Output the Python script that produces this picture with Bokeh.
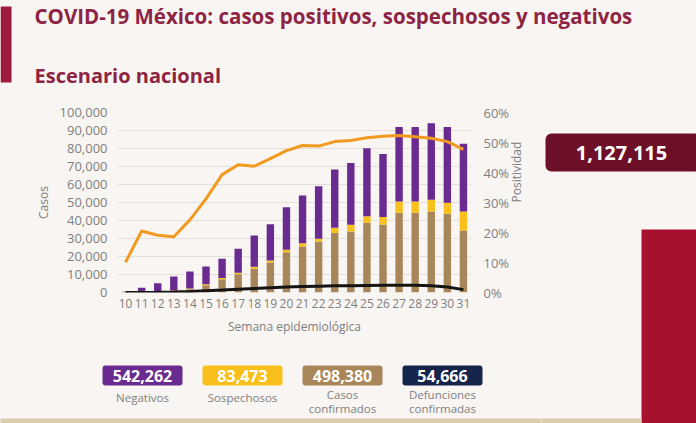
import math
from bokeh.plotting import figure
from bokeh.models import (FactorRange, Range1d, LinearAxis, FixedTicker, NumeralTickFormatter,
                          PrintfTickFormatter, ColumnDataSource)
from bokeh.layouts import column, row
from bokeh.core.properties import value
from bokeh.embed import file_html
from bokeh.resources import INLINE

# ---------------- data ----------------
weeks = [str(w) for w in range(10, 32)]
confirmados = [100, 200, 400, 800, 1800, 4000, 7300, 10200, 13400, 16700, 22400, 25500,
               28300, 33000, 33900, 38700, 37800, 44300, 44300, 45000, 43700, 34400]
sospechosos = [50, 100, 200, 300, 400, 600, 800, 800, 900, 1100, 1400, 1800,
               1500, 3000, 3700, 3700, 4100, 6300, 6300, 6500, 6100, 10600]
negativos = [250, 2300, 4600, 7800, 9500, 9900, 10600, 13300, 17300, 20100, 23500, 26600,
             29200, 32300, 34400, 37800, 35100, 41300, 41300, 42500, 42100, 37600]
defunciones = [0, 30, 80, 250, 550, 950, 1350, 1800, 2250, 2650, 3000, 3300,
               3500, 3700, 3800, 3900, 4000, 4050, 4000, 3800, 3100, 1600]
positividad = [10.1, 20.5, 19.1, 18.6, 24.2, 31.2, 39.3, 42.6, 42.1, 44.6, 47.3, 49.0,
               48.8, 50.3, 50.7, 51.6, 52.1, 52.3, 51.9, 51.4, 50.3, 47.7]
left_ticks = list(range(0, 100001, 10000))
right_ticks = [0, 10, 20, 30, 40, 50, 60]

title = "COVID-19 México: casos positivos, sospechosos y negativos"
subtitle = "Escenario nacional"
total_text = "1,127,115"
summary_values = ["542,262", "83,473", "498,380", "54,666"]
summary_labels = [["Negativos"], ["Sospechosos"], ["Casos", "confirmados"],
                  ["Defunciones", "confirmadas"]]

C_PURPLE = "#6a2b90"
C_YELLOW = "#f9c01c"
C_TAN = "#a9865a"
C_NAVY = "#15244b"
C_ORANGE = "#f29a20"
C_WINE = "#8e2443"
C_GRAY = "#808080"
BG = "#f8f5f2"
FONT = "Open Sans"

W, H = 696, 423
TOP_H = 95          # title band height
MID_H = 255         # chart band height
BOT_H = H - TOP_H - MID_H
CHART_W = 541
SIDE_W = W - CHART_W


def deco_fig(w, h, x0, y0):
    f = figure(width=w, height=h, x_range=Range1d(x0, x0 + w), y_range=Range1d(y0 + h, y0),
               x_axis_type=None, y_axis_type=None, output_backend="svg",
               toolbar_location=None, min_border=0, min_border_left=0, min_border_right=0,
               min_border_top=0, min_border_bottom=0)
    f.background_fill_color = BG
    f.border_fill_color = BG
    f.outline_line_color = None
    f.grid.visible = False
    f.frame_align = False
    return f


def txt(f, x, y, text, size, color, bold=False, align="left"):
    f.text(x=[x], y=[y], text=[text], text_font=value(FONT), text_font_size=value(size),
           text_color=color, text_font_style="bold" if bold else "normal",
           text_align=align, text_baseline="middle")


def rect(f, l, r, t, b, color, radius=0):
    f.quad(left=[l], right=[r], top=[t], bottom=[b], fill_color=color, line_color=None,
           border_radius=radius)


# ---------------- top band ----------------
top = deco_fig(W, TOP_H, 0, 0)
rect(top, 0, 11, 6, 82, "#9c1c3d")
txt(top, 34, 15, title, "20.5px", C_WINE, bold=True)
txt(top, 34, 75, subtitle, "20px", C_WINE, bold=True)

# ---------------- chart ----------------
FL, FR, FT, FB = 117, 471, 112 - TOP_H, 292 - TOP_H

src = ColumnDataSource(dict(weeks=weeks, confirmados=confirmados, sospechosos=sospechosos,
                            negativos=negativos, defunciones=defunciones,
                            positividad=positividad))

p = figure(width=CHART_W, height=MID_H, x_range=FactorRange(*weeks, range_padding=0),
           y_range=Range1d(0, 100000), output_backend="svg", toolbar_location=None,
           min_border_left=FL, min_border_right=CHART_W - FR, min_border_top=FT,
           min_border_bottom=MID_H - FB)
p.frame_align = False
p.background_fill_color = BG
p.border_fill_color = BG
p.outline_line_color = None
p.xgrid.grid_line_color = None
p.ygrid.grid_line_color = "#e4dfda"
p.ygrid.ticker = FixedTicker(ticks=left_ticks)

p.extra_y_ranges = {"pct": Range1d(0, 60)}

ya = p.yaxis[0]
ya.ticker = FixedTicker(ticks=left_ticks)
ya.formatter = NumeralTickFormatter(format="0,0")
ya.axis_label = "Casos"

ra = LinearAxis(y_range_name="pct", ticker=FixedTicker(ticks=right_ticks),
                formatter=PrintfTickFormatter(format="%d%%"), axis_label="Positividad")
p.add_layout(ra, "right")

xa = p.xaxis[0]
xa.axis_label = "Semana epidemiológica"

for ax in [ya, ra, xa]:
    ax.axis_line_color = None
    ax.major_tick_line_color = None
    ax.minor_tick_line_color = None
    ax.major_tick_out = 0
    ax.major_tick_in = 0
    ax.minor_tick_out = 0
    ax.minor_tick_in = 0
    ax.major_label_text_color = C_GRAY
    ax.major_label_text_font = FONT
    ax.major_label_text_font_size = "13px"
    ax.axis_label_text_color = C_GRAY
    ax.axis_label_text_font = FONT
    ax.axis_label_text_font_size = "12px"
    ax.axis_label_text_font_style = "normal"
ya.major_label_standoff = 10
ya.axis_label_standoff = 5
ra.major_label_standoff = 12
ra.axis_label_standoff = 4
ra.axis_label_orientation = math.pi / 2
ra.axis_label_text_align = "center"
xa.major_label_standoff = 6
xa.axis_label_standoff = 7
xa.major_label_text_font_size = "12px"

p.vbar_stack(["confirmados", "sospechosos", "negativos"], x="weeks", width=0.46,
             color=[C_TAN, C_YELLOW, C_PURPLE], line_color=None, source=src)
p.line(x="weeks", y="defunciones", source=src, line_width=3, color="#141414")
p.line(x="weeks", y="positividad", source=src, y_range_name="pct", line_width=3,
       color=C_ORANGE)

# ---------------- bottom-left band (summary boxes) ----------------
bot = deco_fig(CHART_W, BOT_H, 0, TOP_H + MID_H)
rect(bot, -5, 700, 418, 430, "#dccbad")
colors = [C_PURPLE, C_YELLOW, C_TAN, C_NAVY]
for i in range(4):
    l = 102 + 100 * i
    rect(bot, l, l + 80, 365, 385, colors[i], radius=3)
    txt(bot, l + 40, 375, summary_values[i], "16px", "white", bold=True, align="center")
    lines = summary_labels[i]
    if len(lines) == 1:
        txt(bot, l + 40, 397, lines[0], "11.5px", C_GRAY, align="center")
    else:
        txt(bot, l + 40, 394, lines[0], "11.5px", C_GRAY, align="center")
        txt(bot, l + 40, 408, lines[1], "11.5px", C_GRAY, align="center")

# ---------------- right side (chart + bottom bands) ----------------
side = deco_fig(SIDE_W, MID_H + BOT_H, CHART_W, TOP_H)
rect(side, 545, 700, 133, 171, "#6d1027", radius=6)
txt(side, 621, 152, total_text, "20px", "white", bold=True, align="center")
rect(side, 641, 700, 229, 430, "#a8112e")
rect(side, 530, 641, 418, 430, "#dccbad")

css = {"background-color": BG}
inner = column(p, bot, spacing=0, styles=css)
mid = row(inner, side, spacing=0, styles=css)
layout = column(top, mid, spacing=0, styles=css)

open("out.html", "w").write(file_html(layout, INLINE))
